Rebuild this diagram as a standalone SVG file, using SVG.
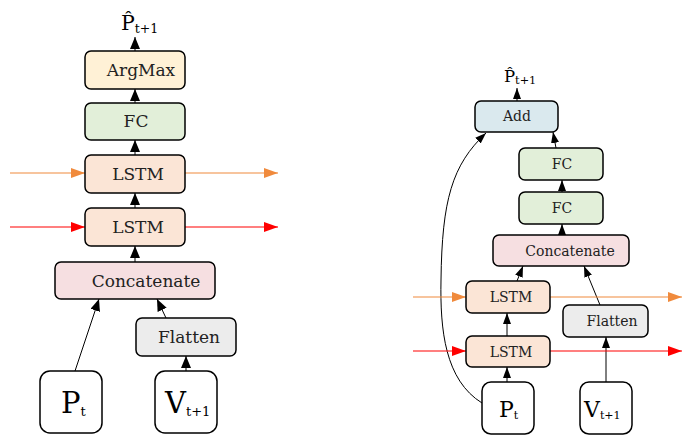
<svg xmlns="http://www.w3.org/2000/svg" width="699" height="438" viewBox="0 0 699 438">
<style>
.box{stroke:#000;stroke-width:1.5}
.t{font-family:"DejaVu Serif",serif;fill:#222;text-anchor:middle}
.tl{font-family:"DejaVu Serif",serif;fill:#000}
.c{fill:none;stroke:#000;stroke-width:1}
.o{fill:none;stroke:#f08a3c;stroke-width:1.2}
.r{fill:none;stroke:#ff0000;stroke-width:1.2}
</style>
<defs>
<marker id="ab" markerUnits="userSpaceOnUse" markerWidth="12" markerHeight="10" refX="12" refY="5" orient="auto"><path d="M0,0 L12,5 L0,10 z" fill="#000"/></marker>
<marker id="abs" markerUnits="userSpaceOnUse" markerWidth="11" markerHeight="8" refX="11" refY="4" orient="auto"><path d="M0,0 L11,4 L0,8 z" fill="#000"/></marker>
<marker id="ao" markerUnits="userSpaceOnUse" markerWidth="14" markerHeight="10" refX="14" refY="5" orient="auto"><path d="M0,0 L14,5 L0,10 z" fill="#f08a3c"/></marker>
<marker id="ar" markerUnits="userSpaceOnUse" markerWidth="14" markerHeight="10" refX="14" refY="5" orient="auto"><path d="M0,0 L14,5 L0,10 z" fill="#ff0000"/></marker>
</defs>

<g id="connectors">
<line class="c" x1="135" y1="51" x2="135" y2="37" marker-end="url(#ab)"/>
<line class="c" x1="135" y1="103" x2="135" y2="89" marker-end="url(#ab)"/>
<line class="c" x1="135" y1="155" x2="135" y2="140" marker-end="url(#ab)"/>
<line class="c" x1="135" y1="208" x2="135" y2="193" marker-end="url(#ab)"/>
<line class="c" x1="135" y1="262" x2="135" y2="246" marker-end="url(#ab)"/>
<line class="c" x1="75" y1="371" x2="99" y2="299" marker-end="url(#ab)"/>
<line class="c" x1="166" y1="318" x2="157" y2="299" marker-end="url(#ab)"/>
<line class="c" x1="186" y1="371" x2="186" y2="356" marker-end="url(#ab)"/>
<line class="o" x1="10" y1="173" x2="85" y2="173" marker-end="url(#ao)"/>
<line class="o" x1="185" y1="173" x2="278" y2="173" marker-end="url(#ao)"/>
<line class="r" x1="10" y1="227" x2="85" y2="227" marker-end="url(#ar)"/>
<line class="r" x1="185" y1="227" x2="278" y2="227" marker-end="url(#ar)"/>

<line class="c" x1="517" y1="101" x2="517" y2="88" marker-end="url(#abs)"/>
<line class="c" x1="556" y1="148" x2="553" y2="132" marker-end="url(#abs)"/>
<line class="c" x1="562" y1="192" x2="562" y2="180" marker-end="url(#abs)"/>
<line class="c" x1="562" y1="235" x2="562" y2="224" marker-end="url(#abs)"/>
<line class="c" x1="517" y1="281" x2="523" y2="266" marker-end="url(#abs)"/>
<line class="c" x1="600" y1="305" x2="584" y2="266" marker-end="url(#abs)"/>
<line class="c" x1="507" y1="336" x2="507" y2="313" marker-end="url(#abs)"/>
<line class="c" x1="507" y1="382" x2="507" y2="367" marker-end="url(#abs)"/>
<line class="c" x1="606" y1="382" x2="606" y2="337" marker-end="url(#abs)"/>
<path class="c" d="M482,403 C445,380 440,330 441,280 C442,200 452,165 486,133" marker-end="url(#abs)"/>
<line class="o" x1="413" y1="297" x2="466" y2="297" marker-end="url(#ao)"/>
<line class="o" x1="550" y1="297" x2="682" y2="297" marker-end="url(#ao)"/>
<line class="r" x1="413" y1="351" x2="466" y2="351" marker-end="url(#ar)"/>
<line class="r" x1="550" y1="351" x2="682" y2="351" marker-end="url(#ar)"/>
</g>

<g id="left-output"><text class="tl" x="121" y="30" font-size="20.5">P̂<tspan font-size="12.5" dy="2.5">t+1</tspan></text></g>
<g id="left-argmax"><rect class="box" x="85" y="51" width="100" height="38" rx="6" fill="#fff1d6"/><text class="t" x="141" y="76" font-size="17">ArgMax</text></g>
<g id="left-fc"><rect class="box" x="85" y="103" width="100" height="37" rx="6" fill="#e2efd9"/><text class="t" x="136" y="127" font-size="17">FC</text></g>
<g id="left-lstm2"><rect class="box" x="85" y="155" width="100" height="38" rx="6" fill="#fbe5d6"/><text class="t" x="138" y="180" font-size="17">LSTM</text></g>
<g id="left-lstm1"><rect class="box" x="85" y="208" width="100" height="38" rx="6" fill="#fbe5d6"/><text class="t" x="138" y="233" font-size="17">LSTM</text></g>
<g id="left-concat"><rect class="box" x="55" y="262" width="160" height="37" rx="6" fill="#f6dfe1"/><text class="t" x="146" y="287" font-size="17">Concatenate</text></g>
<g id="left-flatten"><rect class="box" x="136" y="318" width="100" height="38" rx="6" fill="#ececec"/><text class="t" x="189" y="343" font-size="17">Flatten</text></g>
<g id="left-pt"><rect class="box" x="40" y="371" width="62" height="62" rx="10" fill="#fff"/><text class="tl" x="61" y="413" font-size="29">P<tspan font-size="13" dy="3">t</tspan></text></g>
<g id="left-vt"><rect class="box" x="155" y="371" width="62" height="62" rx="10" fill="#fff"/><text class="tl" x="165" y="413" font-size="29">V<tspan font-size="13" dy="3">t+1</tspan></text></g>

<g id="right-output"><text class="tl" x="504" y="82" font-size="16.5">P̂<tspan font-size="11.3" dy="2">t+1</tspan></text></g>
<g id="right-add"><rect class="box" x="475" y="101" width="83" height="31" rx="6" fill="#dae9ee"/><text class="t" x="517" y="121" font-size="14">Add</text></g>
<g id="right-fc2"><rect class="box" x="519" y="148" width="84" height="32" rx="6" fill="#e2efd9"/><text class="t" x="562" y="169" font-size="14">FC</text></g>
<g id="right-fc1"><rect class="box" x="519" y="192" width="84" height="32" rx="6" fill="#e2efd9"/><text class="t" x="562" y="213" font-size="14">FC</text></g>
<g id="right-concat"><rect class="box" x="493" y="235" width="136" height="31" rx="6" fill="#f6dfe1"/><text class="t" x="570" y="256" font-size="14">Concatenate</text></g>
<g id="right-lstm2"><rect class="box" x="466" y="281" width="84" height="32" rx="6" fill="#fbe5d6"/><text class="t" x="511" y="302" font-size="14">LSTM</text></g>
<g id="right-flatten"><rect class="box" x="563" y="305" width="85" height="32" rx="6" fill="#ececec"/><text class="t" x="612" y="326" font-size="14">Flatten</text></g>
<g id="right-lstm1"><rect class="box" x="466" y="336" width="84" height="31" rx="6" fill="#fbe5d6"/><text class="t" x="511" y="357" font-size="14">LSTM</text></g>
<g id="right-pt"><rect class="box" x="482" y="382" width="52" height="52" rx="9" fill="#fff"/><text class="tl" x="499" y="417" font-size="22">P<tspan font-size="11" dy="2">t</tspan></text></g>
<g id="right-vt"><rect class="box" x="580" y="382" width="52" height="52" rx="9" fill="#fff"/><text class="tl" x="584" y="417" font-size="22">V<tspan font-size="11" dy="2">t+1</tspan></text></g>
</svg>
